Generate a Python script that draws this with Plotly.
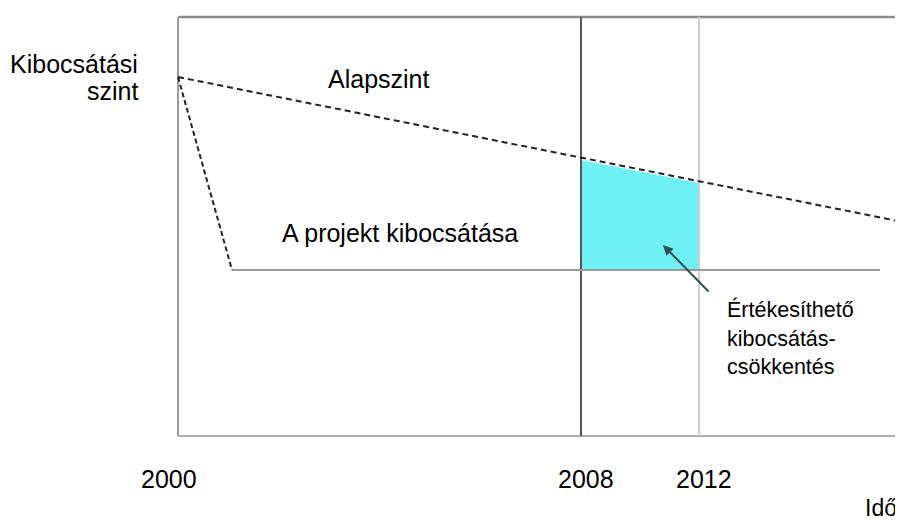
import plotly.graph_objects as go

# Schematic time axis (x) and emission level (y), arbitrary units
years = ["2000", "2008", "2012"]
year_x = [0, 403, 521]
year_shift = [-9, 5, 5]

box_right = 760
box_top = 420
box_bottom = 1

baseline_x = [0, 725]
baseline_y = [360, 215]

project_drop_x = [0, 54]
project_drop_y = [360, 167]
project_flat_x = [54, 702]
project_flat_y = [167, 167]

reduction_x = [403, 521]
reduction_top = [277, 254]
reduction_bottom = [167, 167]

FONT = "Liberation Sans, Arial, sans-serif"

fig = go.Figure()

# cyan area: sellable emission reduction
fig.add_trace(go.Scatter(
    x=[reduction_x[0], reduction_x[1], reduction_x[1], reduction_x[0], reduction_x[0]],
    y=[reduction_top[0], reduction_top[1], reduction_bottom[1], reduction_bottom[0], reduction_top[0]],
    fill="toself", fillcolor="#6ff0f5", mode="none", hoverinfo="skip"))

def seg(xs, ys, color, width, dash="solid"):
    fig.add_trace(go.Scatter(x=xs, y=ys, mode="lines",
                             line=dict(color=color, width=width, dash=dash),
                             hoverinfo="skip"))

# frame
seg([0, box_right], [box_top, box_top], "#8a8a8a", 2.5)
seg([0, 0], [box_bottom, box_top], "#9a9a9a", 2)
seg([0, box_right], [box_bottom, box_bottom], "#b0b0b0", 2)
# period lines
seg([year_x[1], year_x[1]], [box_bottom, box_top], "#555555", 2)
seg([year_x[2], year_x[2]], [box_bottom, box_top], "#cfcfcf", 2)
# project emission
seg(project_flat_x, project_flat_y, "#9a9a9a", 2)
seg(project_drop_x, project_drop_y, "#222222", 2, "5px,3px")
# baseline
seg(baseline_x, baseline_y, "#222222", 2, "6px,4px")

ann = []
def txt(s, x, y, size=25, xanchor="left"):
    ann.append(dict(text=s, x=x, y=y, xref="x", yref="y", showarrow=False,
                    xanchor=xanchor, yanchor="middle",
                    font=dict(family=FONT, size=size, color="black")))

for lab, xv, sh in zip(years, year_x, year_shift):
    ann.append(dict(text=lab, x=xv, y=-42, xref="x", yref="y", showarrow=False,
                    xanchor="center", yanchor="middle", xshift=sh,
                    font=dict(family=FONT, size=25, color="black")))

txt("Kibocsátási", -38, 373, xanchor="right")
txt("szint", -38, 346, xanchor="right")
txt("Alapszint", 148, 358)
txt("A projekt kibocsátása", 102, 204)
txt("Értékesíthető", 547, 128, size=21.5)
txt("kibocsátás-", 547, 98, size=21.5)
txt("csökkentés", 547, 70, size=21.5)
txt("Idő", 703, -71, size=23, xanchor="center")

# arrow pointing into the cyan area
ann.append(dict(text="", x=485, y=192, ax=532, ay=144, xref="x", yref="y",
                axref="x", ayref="y", showarrow=True, arrowhead=2,
                arrowsize=1, arrowwidth=2, arrowcolor="#2f4f4f"))

fig.update_layout(
    width=903, height=520,
    margin=dict(l=0, r=0, t=0, b=0),
    paper_bgcolor="white", plot_bgcolor="white",
    showlegend=False,
    xaxis=dict(range=[-170, 733], visible=False, fixedrange=True),
    yaxis=dict(range=[-91, 429], visible=False, fixedrange=True),
    annotations=ann,
)

fig.write_html("out.html")
